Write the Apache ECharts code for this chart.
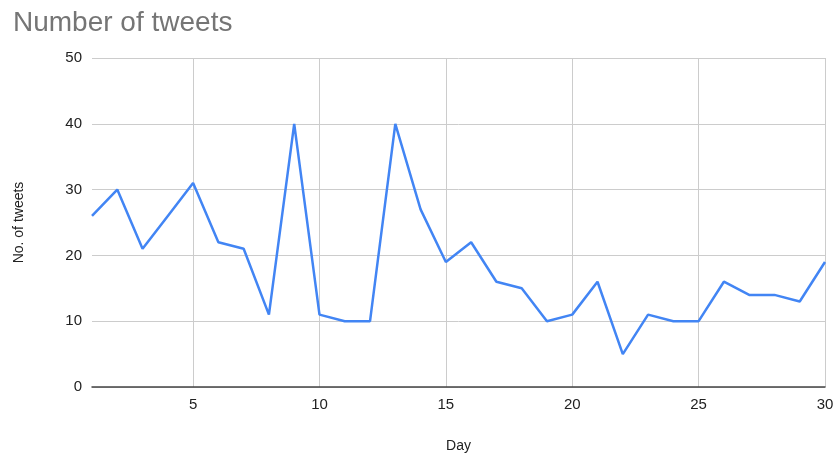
<!DOCTYPE html>
<html>
<head>
<meta charset="utf-8">
<script src="https://cdn.jsdelivr.net/npm/echarts@6/dist/echarts.min.js"></script>
<style>
  html, body { margin: 0; padding: 0; background: #fff; }
  #chart { width: 836px; height: 456px; }
</style>
</head>
<body>
<div id="chart"></div>
<script>
const days = [1,2,3,4,5,6,7,8,9,10,11,12,13,14,15,16,17,18,19,20,21,22,23,24,25,26,27,28,29,30]
const tweets = [26,30,21,26,31,22,21,11,40,11,10,10,40,27,19,22,16,15,10,11,16,5,11,10,10,16,14,14,13,19]
const dayTicks = [5,10,15,20,25,30]

const myChart = echarts.init(document.getElementById('chart'))
const font = 'Liberation Sans, Arial, sans-serif'

const option = {
  animation: false,
  title: {
    text: 'Number of tweets',
    left: 8,
    top: 4,
    textStyle: { fontFamily: font, fontSize: 28, fontWeight: 'normal', color: '#757575' }
  },
  grid: { left: 92, right: 11, top: 58, bottom: 69, outerBoundsMode: 'none', containLabel: false },
  xAxis: {
    type: 'value',
    min: 1,
    max: 30,
    name: 'Day',
    nameLocation: 'middle',
    nameGap: 52,
    nameTextStyle: { fontFamily: font, fontSize: 14, color: '#222' },
    axisLine: { show: true, onZero: false, lineStyle: { color: '#444', width: 1.5 } },
    axisTick: { show: false, customValues: dayTicks },
    axisLabel: { customValues: dayTicks, fontFamily: font, fontSize: 15, color: '#222', margin: 10 },
    splitLine: { show: true, lineStyle: { color: '#cccccc', width: 1 } }
  },
  yAxis: {
    type: 'value',
    min: 0,
    max: 50,
    interval: 10,
    name: 'No. of tweets',
    nameLocation: 'middle',
    nameGap: 66,
    nameTextStyle: { fontFamily: font, fontSize: 14, color: '#222' },
    axisLine: { show: false },
    axisTick: { show: false },
    axisLabel: { fontFamily: font, fontSize: 15, color: '#222', margin: 10 },
    splitLine: { lineStyle: { color: '#cccccc', width: 1 } }
  },
  series: [{
    type: 'line',
    data: days.map((d, i) => [d, tweets[i]]),
    showSymbol: false,
    lineStyle: { color: '#4285f4', width: 2.5 },
    itemStyle: { color: '#4285f4' }
  }]
}

myChart.setOption(option)
</script>
</body>
</html>
